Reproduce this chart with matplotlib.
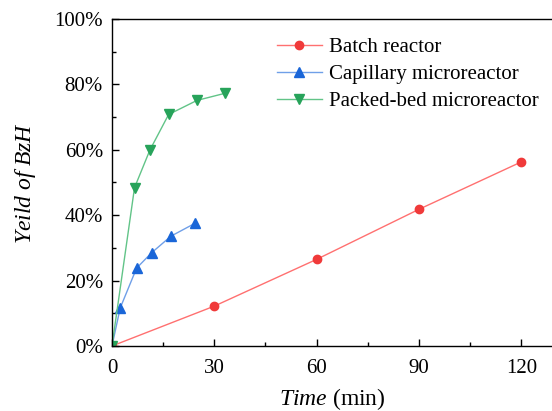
import matplotlib
matplotlib.use("Agg")
import matplotlib.pyplot as plt
from matplotlib.ticker import MultipleLocator, PercentFormatter

# data
batch_t = [0, 30, 60, 90, 120]
batch_y = [0, 12.2, 26.5, 41.8, 56.3]

cap_t = [0, 2.4, 7.2, 11.6, 17.3, 24.3]
cap_y = [0, 11.6, 23.8, 28.5, 33.6, 37.5]

packed_t = [0, 6.6, 11.1, 16.6, 24.9, 33.2]
packed_y = [0, 48.4, 59.9, 70.8, 75.1, 77.3]

plt.rcParams['font.family'] = ['Liberation Serif', 'DejaVu Serif']
plt.rcParams['mathtext.fontset'] = 'custom'
plt.rcParams['mathtext.it'] = 'Liberation Serif:italic'
plt.rcParams['mathtext.rm'] = 'Liberation Serif'

fig = plt.figure(figsize=(5.52, 4.11), dpi=100)
ax = fig.add_axes([112 / 552, 65 / 411, 1 - 112 / 552, 327 / 411])

ax.plot(batch_t, batch_y, color='#ff7070', lw=1.0, marker='o', ms=6,
        mfc='#f03a3a', mec='#f03a3a', label='Batch reactor')
ax.plot(cap_t, cap_y, color='#6f9fe8', lw=1.0, marker='^', ms=7,
        mfc='#1a66d8', mec='#1a66d8', label='Capillary microreactor')
ax.plot(packed_t, packed_y, color='#62c488', lw=1.0, marker='v', ms=7,
        mfc='#27a35a', mec='#27a35a', label='Packed-bed microreactor')

ax.set_xlim(0, 129.0)
ax.set_ylim(0, 100)
ax.xaxis.set_major_locator(MultipleLocator(30))
ax.xaxis.set_minor_locator(MultipleLocator(15))
ax.yaxis.set_major_locator(MultipleLocator(20))
ax.yaxis.set_minor_locator(MultipleLocator(10))
ax.yaxis.set_major_formatter(PercentFormatter(decimals=0))

ax.tick_params(which='both', direction='in', labelsize=15, width=1.0)
ax.tick_params(which='major', length=5)
ax.tick_params(which='minor', length=3)
ax.tick_params(axis='x', which='major', pad=9.5)
ax.tick_params(axis='y', which='major', pad=6.5)
ax.spines['right'].set_visible(False)
for s in ['left', 'bottom', 'top']:
    ax.spines[s].set_linewidth(1.0)

ax.set_xlabel(r'$\mathit{Time}$ (min)', fontsize=17, labelpad=6)
ax.set_ylabel(r'$\mathit{Yeild\ of\ BzH}$', fontsize=17, labelpad=11.5)

ax.legend(loc='upper left', bbox_to_anchor=(0.355, 0.968), frameon=False,
          fontsize=15, handlelength=2.2, handletextpad=0.3,
          labelspacing=0.35, borderaxespad=0)

fig.savefig('out.png', dpi=100)
